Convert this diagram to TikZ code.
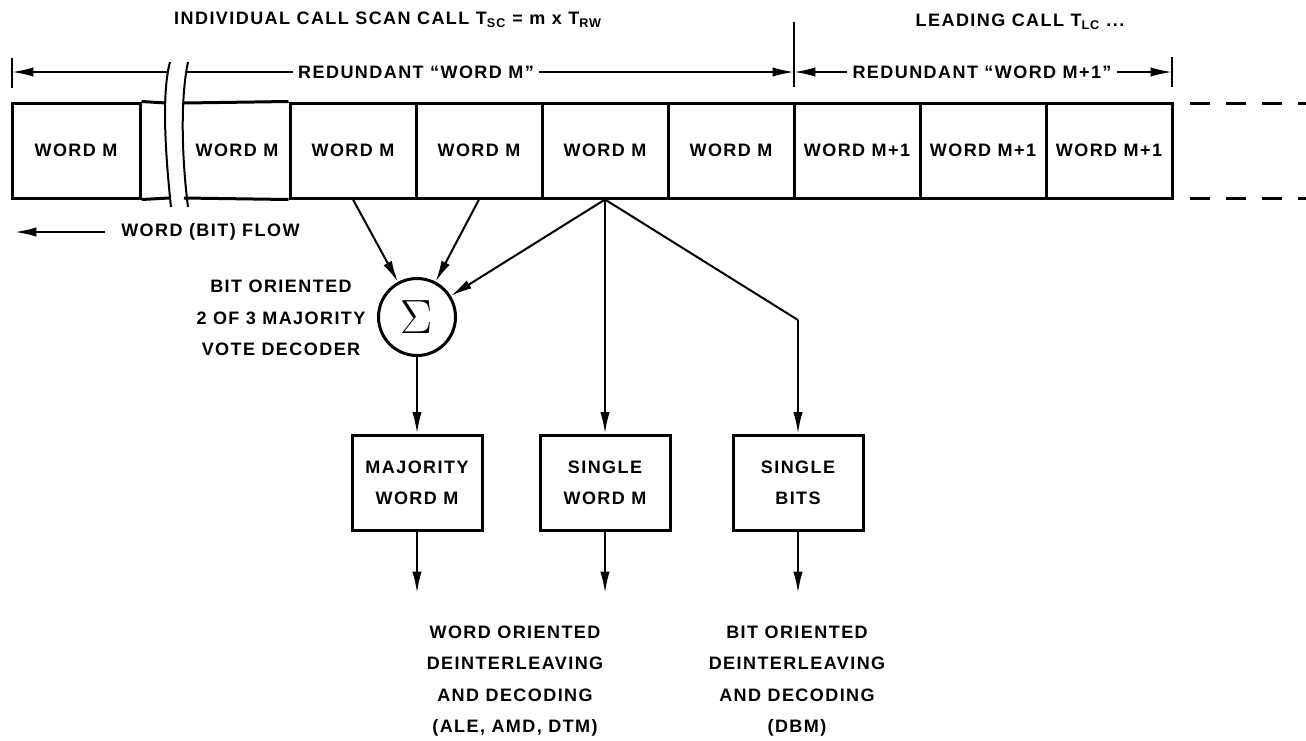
\documentclass[tikz,border=0pt]{standalone}
\usepackage[no-math]{fontspec}
\setmainfont{Liberation Sans}[LetterSpace=8]
\usepackage{tikz}
\usetikzlibrary{arrows.meta}

\begin{document}
\begin{tikzpicture}[x=0.75pt,y=0.75pt,yscale=-1,xscale=1,
  lbl/.style={inner sep=0.75pt,font=\bfseries\fontsize{13.5}{23.5}\selectfont},
  cell/.style={lbl,draw,line width=2.25pt,minimum width=94.5pt,minimum height=71.25pt},
  wbox/.style={lbl,draw,line width=2.25pt,minimum width=97.5pt,minimum height=71.25pt,align=center},
  arr/.style={line width=1.5pt,-{Latex[length=16pt,width=7pt]}},
  dim/.style={line width=1.5pt}]
        \path[use as bounding box] (0,0) rectangle (1306,740);

        % Text Node
        \draw (388,20) node [lbl] (scan) {INDIVIDUAL CALL SCAN CALL T\textsubscript{SC} = m x T\textsubscript{RW}};
        % Text Node
        \draw (1020,22) node [lbl] (lead) {LEADING CALL T\textsubscript{LC} ...};

        %Shape: Rectangle
        \draw (76,150.5) node [cell,minimum width=96pt] (m0) {WORD M};
        % Text Node
        \draw (237,150.5) node [lbl] (m1) {WORD M};
        %Shape: Rectangle
        \draw (353,150.5) node [cell] (m2) {WORD M};
        %Shape: Rectangle
        \draw (479,150.5) node [cell] (m3) {WORD M};
        %Shape: Rectangle
        \draw (605,150.5) node [cell] (m4) {WORD M};
        %Shape: Rectangle
        \draw (731,150.5) node [cell] (m5) {WORD M};
        %Shape: Rectangle
        \draw (857,150.5) node [cell] (n1) {WORD M+1};
        %Shape: Rectangle
        \draw (983,150.5) node [cell] (n2) {WORD M+1};
        %Shape: Rectangle
        \draw (1109,150.5) node [cell] (n3) {WORD M+1};

        %Straight Lines
        \draw [line width=2.25pt] (m0.north east) -- (166,103) ;
        \draw [line width=2.25pt] (m0.south east) -- (169,198) ;
        \draw [line width=2.25pt] (184,103) -- (m2.north west) ;
        \draw [line width=2.25pt] (184,198) -- (m2.south west) ;
        %Curve Lines
        \draw [line width=1.5pt] (170,62) .. controls (161,95) and (166,160) .. (171,207) ;
        \draw [line width=1.5pt] (188,62) .. controls (180,100) and (182,160) .. (188,207) ;
        %Dashed Lines
        \draw [line width=2.25pt,dash pattern=on 15pt off 12pt] (1190,103) -- (1306,103) ;
        \draw [line width=2.25pt,dash pattern=on 15pt off 12pt] (1190,198) -- (1306,198) ;

        % Text Node
        \draw (416,72) node [lbl,inner sep=4pt] (rdm) {REDUNDANT “WORD M”};
        % Text Node
        \draw (982,72) node [lbl,inner sep=4pt] (rdn) {REDUNDANT “WORD M+1”};
        \coordinate (t0) at (12,72);
        \coordinate (tm) at (794,72);
        \coordinate (t1) at (1172,72);
        %Straight Lines
        \draw [dim] (12,58) -- (12,88) ;
        \draw [arr] (168,72) -- (t0) ;
        \draw [dim] (187,72) -- (rdm.west) ;
        \draw [arr] (rdm.east) -- (tm) ;
        \draw [dim] (794,22) -- (794,87) ;
        \draw [arr] (rdn.west) -- (tm) ;
        \draw [arr] (rdn.east) -- (t1) ;
        \draw [dim] (1172,57) -- (1172,87) ;

        % Text Node
        \draw (120,232) node [lbl,anchor=west] (flow) {WORD (BIT) FLOW};
        \coordinate (flowend) at (15,232);
        \draw [arr] ([xshift=-11pt]flow.west) -- (flowend) ;

        %Shape: Circle
        \draw (417,317) node [circle,draw,line width=2.25pt,minimum size=57.75pt,inner sep=0pt] (sum) {\scalebox{1.45}{\Huge$\Sigma$}};
        % Text Node
        \draw (281,318) node [lbl,align=center] (vote) {BIT ORIENTED\\2 OF 3 MAJORITY\\VOTE DECODER};

        %Shape: Rectangle
        \draw (417,482.5) node [wbox] (maj) {MAJORITY\\WORD M};
        %Shape: Rectangle
        \draw (605,482.5) node [wbox] (sword) {SINGLE\\WORD M};
        %Shape: Rectangle
        \draw (798,482.5) node [wbox] (bits) {SINGLE\\BITS};

        %Arrows
        \draw [arr] (m2.south) -- (sum) ;
        \draw [arr] (m3.south) -- (sum) ;
        \draw [arr] (m4.south) -- (sum) ;
        \draw [arr] (sum.south) -- (maj.north) ;
        \draw [arr] (m4.south) -- (sword.north) ;
        \coordinate (bend) at (798,320);
        \draw [dim] (m4.south) -- (bend) ;
        \draw [arr] (bend) -- (bits.north) ;

        \coordinate (o1) at (417,593);
        \coordinate (o2) at (605,593);
        \coordinate (o3) at (798,593);
        \draw [arr] (maj.south) -- (o1) ;
        \draw [arr] (sword.south) -- (o2) ;
        \draw [arr] (bits.south) -- (o3) ;

        % Text Node
        \draw (515,681) node [lbl,align=center] (wdec) {WORD ORIENTED\\DEINTERLEAVING\\AND DECODING\\(ALE, AMD, DTM)};
        % Text Node
        \draw (797,681) node [lbl,align=center] (bdec) {BIT ORIENTED\\DEINTERLEAVING\\AND DECODING\\(DBM)};

\end{tikzpicture}
\end{document}
